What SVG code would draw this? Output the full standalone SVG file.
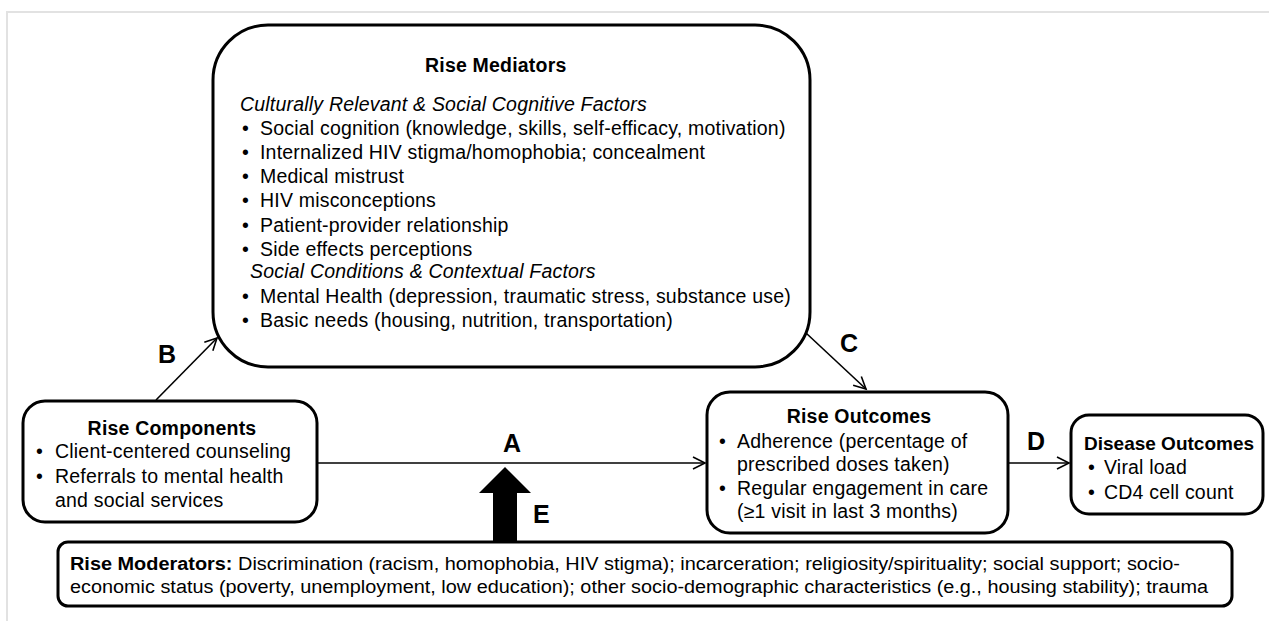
<svg xmlns="http://www.w3.org/2000/svg" width="1269" height="621" viewBox="0 0 1269 621">
<style>
.box{fill:#fff;stroke:#000;stroke-width:3}
.t{font-family:"Liberation Sans",Arial,sans-serif;font-size:19.5px;letter-spacing:0.2px;fill:#000}
.b{font-weight:bold}
.i{font-style:italic}
.lbl{font-family:"Liberation Sans",Arial,sans-serif;font-size:25px;font-weight:bold;fill:#000}
.m{font-family:"Liberation Sans",Arial,sans-serif;font-size:18px;fill:#000}
.ln{stroke:#000;stroke-width:1.6;fill:none}
</style>
<defs>
<marker id="open" markerWidth="16" markerHeight="16" refX="13" refY="7" orient="auto" markerUnits="userSpaceOnUse">
<path d="M1,1 L13,7 L1,13" fill="none" stroke="#000" stroke-width="1.6"/>
</marker>
</defs>
<rect width="1269" height="621" fill="#fff"/>
<path d="M7,621 V12 H1269" fill="none" stroke="#e2e2e2" stroke-width="2"/>
<g id="connectors">
<line class="ln" x1="156" y1="400" x2="217" y2="338" marker-end="url(#open)"/>
<line class="ln" x1="317" y1="463" x2="705" y2="463" marker-end="url(#open)"/>
<line class="ln" x1="806" y1="333" x2="866" y2="389" marker-end="url(#open)"/>
<line class="ln" x1="1008" y1="463" x2="1069" y2="463" marker-end="url(#open)"/>
<polygon points="505,467 531,493 517,493 517,542 493,542 493,493 479,493" fill="#000"/>
<text class="lbl" x="158" y="363">B</text>
<text class="lbl" x="512" y="452" text-anchor="middle">A</text>
<text class="lbl" x="849" y="352" text-anchor="middle">C</text>
<text class="lbl" x="1027" y="450">D</text>
<text class="lbl" x="533" y="523">E</text>
</g>
<g id="mediators">
<rect class="box" x="213" y="25" width="597" height="342" rx="55"/>
<text class="t b" x="425" y="72">Rise Mediators</text>
<text class="t i" x="240" y="111">Culturally Relevant &amp; Social Cognitive Factors</text>
<text class="t" x="242" y="135">•</text><text class="t" x="260" y="135">Social cognition (knowledge, skills, self-efficacy, motivation)</text>
<text class="t" x="242" y="159">•</text><text class="t" x="260" y="159">Internalized HIV stigma/homophobia; concealment</text>
<text class="t" x="242" y="183">•</text><text class="t" x="260" y="183">Medical mistrust</text>
<text class="t" x="242" y="207">•</text><text class="t" x="260" y="207">HIV misconceptions</text>
<text class="t" x="242" y="232">•</text><text class="t" x="260" y="232">Patient-provider relationship</text>
<text class="t" x="242" y="256">•</text><text class="t" x="260" y="256">Side effects perceptions</text>
<text class="t i" x="250" y="278">Social Conditions &amp; Contextual Factors</text>
<text class="t" x="242" y="303">•</text><text class="t" x="260" y="303">Mental Health (depression, traumatic stress, substance use)</text>
<text class="t" x="242" y="327">•</text><text class="t" x="260" y="327">Basic needs (housing, nutrition, transportation)</text>
</g>
<g id="components">
<rect class="box" x="23" y="401" width="294" height="121" rx="22"/>
<text class="t b" x="172" y="435" text-anchor="middle">Rise Components</text>
<text class="t" x="36" y="458">•</text><text class="t" x="55" y="458">Client-centered counseling</text>
<text class="t" x="36" y="483">•</text><text class="t" x="55" y="483">Referrals to mental health</text>
<text class="t" x="55" y="507">and social services</text>
</g>
<g id="outcomes">
<rect class="box" x="707" y="392" width="301" height="141" rx="23"/>
<text class="t b" x="859" y="423" text-anchor="middle">Rise Outcomes</text>
<text class="t" x="719" y="448">•</text><text class="t" x="737" y="448">Adherence (percentage of</text>
<text class="t" x="737" y="471">prescribed doses taken)</text>
<text class="t" x="719" y="495">•</text><text class="t" x="737" y="495">Regular engagement in care</text>
<text class="t" x="737" y="518">(≥1 visit in last 3 months)</text>
</g>
<g id="disease">
<rect class="box" x="1071" y="415" width="192" height="99" rx="18"/>
<text class="t b" x="1084" y="450" style="font-size:19px;letter-spacing:0">Disease Outcomes</text>
<text class="t" x="1088" y="474">•</text><text class="t" x="1104" y="474">Viral load</text>
<text class="t" x="1088" y="499">•</text><text class="t" x="1104" y="499">CD4 cell count</text>
</g>
<g id="moderators">
<rect class="box" x="58" y="542" width="1174" height="64" rx="10"/>
<text class="m" x="70" y="570" textLength="1110" lengthAdjust="spacingAndGlyphs"><tspan font-weight="bold">Rise Moderators:</tspan> Discrimination (racism, homophobia, HIV stigma); incarceration; religiosity/spirituality; social support; socio-</text>
<text class="m" x="70" y="593" textLength="1138" lengthAdjust="spacingAndGlyphs">economic status (poverty, unemployment, low education); other socio-demographic characteristics (e.g., housing stability); trauma</text>
</g>
</svg>
